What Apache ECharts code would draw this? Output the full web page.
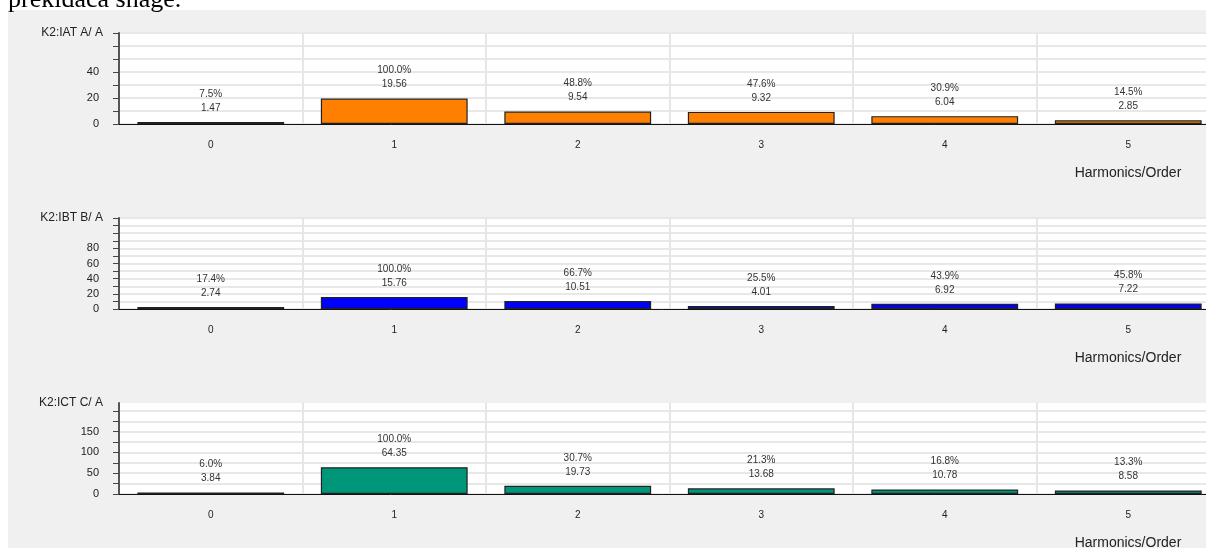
<!DOCTYPE html>
<html>
<head>
<meta charset="utf-8">
<script src="https://cdn.jsdelivr.net/npm/echarts@6/dist/echarts.min.js"></script>
<style>
  html, body { margin: 0; padding: 0; background: #fff; }
  #chart { width: 1206px; height: 548px; }
</style>
</head>
<body>
<div id="chart"></div>
<script>
// harmonic orders
const orders = ['0', '1', '2', '3', '4', '5']

// K2:IAT A
const iatValues = [1.47, 19.56, 9.54, 9.32, 6.04, 2.85]
const iatPct = [7.5, 100.0, 48.8, 47.6, 30.9, 14.5]
// K2:IBT B
const ibtValues = [2.74, 15.76, 10.51, 4.01, 6.92, 7.22]
const ibtPct = [17.4, 100.0, 66.7, 25.5, 43.9, 45.8]
// K2:ICT C
const ictValues = [3.84, 64.35, 19.73, 13.68, 10.78, 8.58]
const ictPct = [6.0, 100.0, 30.7, 21.3, 16.8, 13.3]

// y axis labels that are printed
const iatLabels = [0, 20, 40]
const ibtLabels = [0, 20, 40, 60, 80]
const ictLabels = [0, 50, 100, 150]
const ictTicks = [0, 25, 50, 75, 100, 125, 150, 175, 200]

const font = '"Liberation Sans", Arial, sans-serif'

const panels = [
  { name: 'K2:IAT A/ A', values: iatValues, pct: iatPct, color: '#ff8000', max: 70, interval: 10, labels: iatLabels, top: 33 },
  { name: 'K2:IBT B/ A', values: ibtValues, pct: ibtPct, color: '#0000ff', max: 120, interval: 10, labels: ibtLabels, top: 218 },
  { name: 'K2:ICT C/ A', values: ictValues, pct: ictPct, color: '#00967a', max: 219, interval: 25, labels: ictLabels, ticks: ictTicks, top: 403 }
]

let myChart = echarts.init(document.getElementById('chart'))

myChart.setOption({
  animation: false,
  textStyle: { fontFamily: font },
  graphic: [
    {
      type: 'rect',
      z: -10,
      shape: { x: 8, y: 10, width: 1198, height: 538 },
      style: { fill: '#f0f0f0' }
    },
    {
      type: 'text',
      x: 8,
      y: 0,
      style: {
        text: 'prekidača snage.',
        font: '26px "Liberation Serif", "Times New Roman", serif',
        fill: '#000',
        verticalAlign: 'middle'
      }
    }
  ].concat(panels.map(p => ({
    type: 'text',
    x: 1128,
    y: p.top + 140,
    style: {
      text: 'Harmonics/Order',
      font: '14px ' + font,
      fill: '#222',
      align: 'center',
      verticalAlign: 'middle'
    }
  }))),
  grid: panels.map(p => ({
    left: 119,
    top: p.top,
    width: 1101,
    height: 91,
    outerBoundsMode: 'none',
    show: true,
    backgroundColor: '#fff',
    borderWidth: 0
  })),
  xAxis: panels.map((p, i) => ({
    type: 'category',
    gridIndex: i,
    data: orders,
    axisLine: { lineStyle: { color: '#111', width: 1 } },
    axisTick: { alignWithLabel: true, length: 6, lineStyle: { color: '#222' } },
    axisLabel: { color: '#222', fontSize: 10, margin: 16 },
    splitLine: { show: true, lineStyle: { color: '#e6e6e6', width: 2 } }
  })),
  yAxis: panels.map((p, i) => ({
    type: 'value',
    gridIndex: i,
    min: 0,
    max: p.max,
    interval: p.interval,
    name: p.name,
    nameLocation: 'end',
    nameGap: 0,
    nameTextStyle: {
      color: '#222',
      fontSize: 12,
      align: 'right',
      verticalAlign: 'middle',
      padding: [0, 16, 0, 0]
    },
    axisLine: { show: true, lineStyle: { color: '#555', width: 2 } },
    axisTick: {
      show: true,
      length: 6,
      lineStyle: { color: '#444' },
      customValues: p.ticks
    },
    axisLabel: { color: '#222', fontSize: 11, margin: 20, customValues: p.labels },
    splitLine: { show: true, lineStyle: { color: '#e8e8e8', width: 2 } }
  })),
  series: panels.map((p, i) => ({
    type: 'bar',
    xAxisIndex: i,
    yAxisIndex: i,
    data: p.values,
    barWidth: '80%',
    itemStyle: {
      color: p.color,
      borderColor: '#222',
      borderWidth: 1.2
    },
    label: {
      show: true,
      position: 'top',
      distance: 7,
      fontSize: 10,
      lineHeight: 14,
      color: '#333',
      formatter: params => p.pct[params.dataIndex].toFixed(1) + '%\n' + params.value.toFixed(2)
    }
  }))
})
</script>
</body>
</html>
